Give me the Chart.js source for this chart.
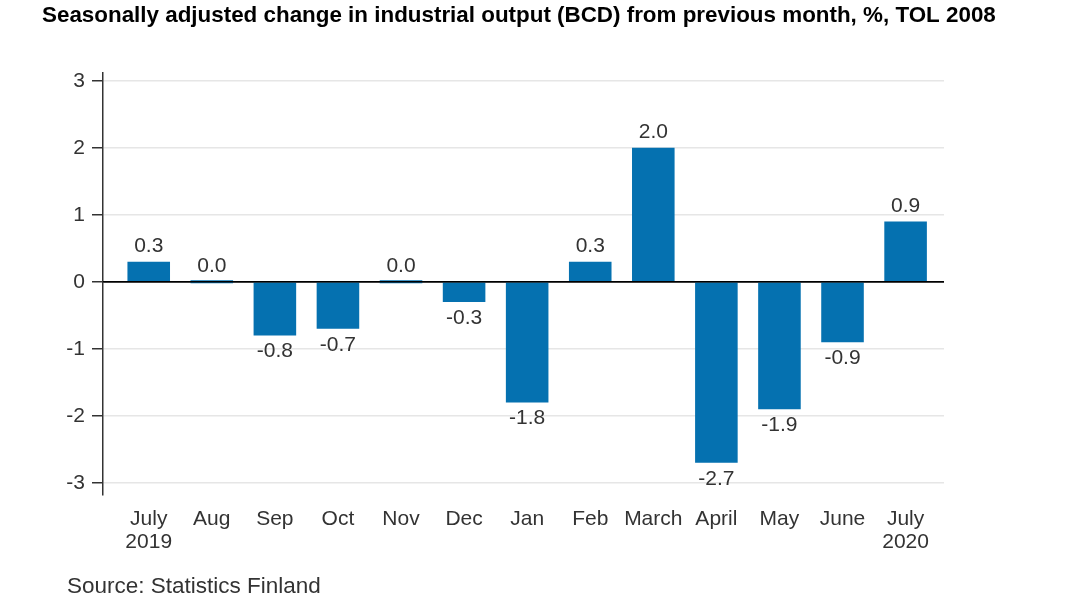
<!DOCTYPE html>
<html>
<head>
<meta charset="utf-8">
<script src="https://cdn.jsdelivr.net/npm/chart.js@4"></script>
<style>
  html, body { margin: 0; padding: 0; background: #fff; }
  #wrap { position: relative; width: 1065px; height: 599px; }
</style>
</head>
<body>
<div id="wrap"><canvas id="c"></canvas></div>
<script>
// ---- data ----
const titleText = 'Seasonally adjusted change in industrial output (BCD) from previous month, %, TOL 2008';
const sourceText = 'Source: Statistics Finland';
const xLabels = [['July', '2019'], 'Aug', 'Sep', 'Oct', 'Nov', 'Dec', 'Jan', 'Feb', 'March', 'April', 'May', 'June', ['July', '2020']];
const values = [0.3, 0.0, -0.8, -0.7, 0.0, -0.3, -1.8, 0.3, 2.0, -2.7, -1.9, -0.9, 0.9];
const yTickValues = [-3, -2, -1, 0, 1, 2, 3];

const FONT = "'Liberation Sans', Arial, sans-serif";
const BAR = '#0571b0';

const textPlugin = {
  id: 'texts',
  afterDatasetsDraw(chart) {
    const ctx = chart.ctx;
    const area = chart.chartArea;
    const y = chart.scales.y;
    // zero line on top of bars
    ctx.save();
    ctx.strokeStyle = '#000';
    ctx.lineWidth = 1.5;
    const y0 = y.getPixelForValue(0);
    ctx.beginPath();
    ctx.moveTo(area.left, y0);
    ctx.lineTo(area.right, y0);
    ctx.stroke();
    // value labels
    const meta = chart.getDatasetMeta(0);
    ctx.font = '21px ' + FONT;
    ctx.fillStyle = '#333';
    ctx.textAlign = 'center';
    ctx.textBaseline = 'middle';
    meta.data.forEach((el, i) => {
      const v = values[i];
      const py = v >= 0 ? Math.min(el.y, y0) - 15.5 : el.y + 16;
      ctx.fillText(v.toFixed(1), el.x, py);
    });
    ctx.restore();
  },
  afterDraw(chart) {
    const ctx = chart.ctx;
    ctx.save();
    ctx.textAlign = 'left';
    ctx.textBaseline = 'alphabetic';
    ctx.fillStyle = '#000';
    ctx.font = 'bold 22.4px ' + FONT;
    ctx.fillText(titleText, 42, 22);
    ctx.fillStyle = '#333';
    ctx.font = '22.5px ' + FONT;
    ctx.fillText(sourceText, 67, 593);
    ctx.restore();
  }
};

new Chart(document.getElementById('c'), {
  type: 'bar',
  data: {
    datasets: [{
      data: values.map((v, i) => ({ x: i, y: v })),
      backgroundColor: BAR,
      borderWidth: 0,
      barPercentage: 0.675,
      categoryPercentage: 1,
      minBarLength: 3
    }]
  },
  options: {
    responsive: true,
    maintainAspectRatio: false,
    animation: false,
    layout: { padding: { left: 43, right: 121, top: 72.7, bottom: 0 } },
    plugins: {
      legend: { display: false },
      title: { display: false },
      tooltip: { enabled: false }
    },
    scales: {
      x: {
        type: 'linear',
        offset: false,
        min: -0.725,
        max: 12.609,
        grid: { display: false, drawTicks: false, tickLength: 0 },
        border: { display: false },
        ticks: {
          stepSize: 1,
          autoSkip: false,
          maxRotation: 0,
          minRotation: 0,
          includeBounds: false,
          padding: 12.5,
          color: '#333',
          font: { family: FONT, size: 21, lineHeight: 1.1 },
          callback: (v) => Number.isInteger(v) && xLabels[v] !== undefined ? xLabels[v] : ''
        },
        afterFit: (s) => { s.height = 104; }
      },
      y: {
        min: -3.18,
        max: 3.12,
        afterBuildTicks: (s) => { s.ticks = yTickValues.map(v => ({ value: v })); },
        grid: {
          color: (c) => (c.tick && c.tick.value === 0) ? '#000' : '#e6e6e6',
          lineWidth: 1.5,
          tickLength: 11,
          tickColor: '#333',
          drawTicks: true
        },
        border: { display: true, color: '#333', width: 1.5 },
        ticks: {
          padding: 7,
          color: '#333',
          font: { family: FONT, size: 21 },
          callback: (v) => String(v)
        },
        afterFit: (s) => { s.width = 60; }
      }
    }
  },
  plugins: [textPlugin]
});
</script>
</body>
</html>
